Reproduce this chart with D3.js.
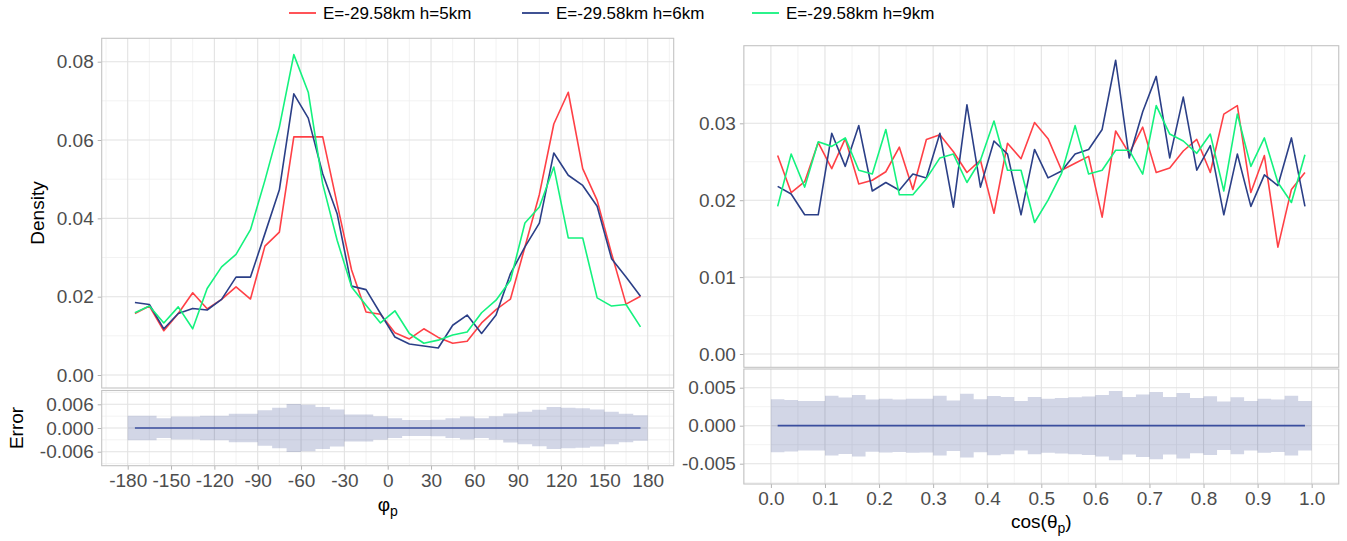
<!DOCTYPE html>
<html>
<head>
<meta charset="utf-8">
<script src="https://cdn.jsdelivr.net/npm/d3@7/dist/d3.min.js"></script>
<style>
  body { margin: 0; background: #fff; }
  text { font-family: "Liberation Sans", Arial, sans-serif; }
</style>
</head>
<body>
<svg id="chart" width="1347" height="541"></svg>
<script>
// ---- azimuthal distribution (phi_p, 10 degree bins) ----
const phiBins = [-175,-165,-155,-145,-135,-125,-115,-105,-95,-85,-75,-65,-55,-45,-35,-25,-15,-5,
                 5,15,25,35,45,55,65,75,85,95,105,115,125,135,145,155,165,175];
const phiH5 = [0.0157,0.0176,0.0113,0.0157,0.0210,0.0169,0.0193,0.0225,0.0194,0.0329,0.0365,0.0608,
               0.0608,0.0608,0.0437,0.0268,0.0161,0.0155,0.0108,0.0092,0.0118,0.0096,0.0081,0.0086,
               0.0133,0.0167,0.0194,0.0327,0.0461,0.0641,0.0722,0.0527,0.0446,0.0310,0.0181,0.0201];
const phiH6 = [0.0185,0.0180,0.0118,0.0157,0.0170,0.0166,0.0193,0.0250,0.0250,0.0361,0.0473,0.0718,
               0.0656,0.0514,0.0412,0.0227,0.0218,0.0157,0.0097,0.0079,0.0074,0.0069,0.0127,0.0153,
               0.0106,0.0153,0.0259,0.0327,0.0388,0.0567,0.0510,0.0484,0.0431,0.0297,0.0250,0.0201];
const phiH9 = [0.0159,0.0176,0.0133,0.0174,0.0118,0.0221,0.0276,0.0308,0.0371,0.0497,0.0633,0.0818,
               0.0722,0.0488,0.0344,0.0225,0.0178,0.0133,0.0164,0.0106,0.0081,0.0089,0.0102,0.0110,
               0.0159,0.0191,0.0242,0.0388,0.0429,0.0531,0.0350,0.0350,0.0197,0.0176,0.0180,0.0123];
const phiErr = [0.0031,0.0031,0.0025,0.0029,0.0029,0.0031,0.0031,0.0036,0.0036,0.0045,0.0051,0.0061,
                0.0059,0.0053,0.0047,0.0034,0.0034,0.0030,0.0025,0.0020,0.0020,0.0021,0.0025,0.0029,
                0.0025,0.0030,0.0037,0.0041,0.0046,0.0053,0.0051,0.0050,0.0047,0.0041,0.0036,0.0032];
const phiTicks = [-180,-150,-120,-90,-60,-30,0,30,60,90,120,150,180];
const phiDensityTicks = [0, 0.02, 0.04, 0.06, 0.08];
const phiErrTicks = [-0.006, 0, 0.006];

// ---- polar distribution (cos theta_p, 0.025 bins) ----
const cosBins = [0.0125,0.0375,0.0625,0.0875,0.1125,0.1375,0.1625,0.1875,0.2125,0.2375,
                 0.2625,0.2875,0.3125,0.3375,0.3625,0.3875,0.4125,0.4375,0.4625,0.4875,
                 0.5125,0.5375,0.5625,0.5875,0.6125,0.6375,0.6625,0.6875,0.7125,0.7375,
                 0.7625,0.7875,0.8125,0.8375,0.8625,0.8875,0.9125,0.9375,0.9625,0.9875];
const cosH5 = [0.0258,0.0210,0.0224,0.0275,0.0241,0.0280,0.0221,0.0226,0.0237,0.0269,
               0.0214,0.0279,0.0285,0.0263,0.0236,0.0252,0.0183,0.0274,0.0254,0.0301,
               0.0280,0.0239,0.0248,0.0257,0.0178,0.0290,0.0261,0.0295,0.0236,0.0242,
               0.0264,0.0279,0.0236,0.0312,0.0323,0.0210,0.0258,0.0139,0.0214,0.0236];
const cosH6 = [0.0218,0.0208,0.0181,0.0181,0.0287,0.0244,0.0297,0.0212,0.0223,0.0213,
               0.0234,0.0229,0.0287,0.0191,0.0324,0.0217,0.0277,0.0260,0.0181,0.0266,
               0.0229,0.0238,0.0260,0.0266,0.0292,0.0382,0.0255,0.0315,0.0361,0.0255,
               0.0334,0.0239,0.0271,0.0181,0.0260,0.0192,0.0233,0.0219,0.0281,0.0192];
const cosH9 = [0.0192,0.0260,0.0217,0.0276,0.0270,0.0281,0.0239,0.0234,0.0292,0.0207,
               0.0207,0.0228,0.0255,0.0260,0.0223,0.0252,0.0303,0.0239,0.0239,0.0171,
               0.0200,0.0235,0.0297,0.0234,0.0239,0.0265,0.0265,0.0234,0.0323,0.0286,
               0.0277,0.0261,0.0286,0.0212,0.0312,0.0244,0.0281,0.0223,0.0197,0.0259];
const cosErr = [0.00349,0.00338,0.00325,0.00325,0.00393,0.00371,0.00404,0.00344,0.00353,0.00346,
                0.00355,0.00353,0.00393,0.00333,0.00419,0.00349,0.00390,0.00377,0.00325,0.00377,
                0.00355,0.00366,0.00375,0.00384,0.00404,0.00456,0.00379,0.00412,0.00443,0.00379,
                0.00430,0.00364,0.00386,0.00320,0.00375,0.00325,0.00355,0.00346,0.00393,0.00325];
const cosTicks = [0,0.1,0.2,0.3,0.4,0.5,0.6,0.7,0.8,0.9,1.0];
const cosDensityTicks = [0, 0.01, 0.02, 0.03];
const cosErrTicks = [-0.005, 0, 0.005];

const seriesNames = ["E=-29.58km h=5km", "E=-29.58km h=6km", "E=-29.58km h=9km"];
const seriesColors = ["#FF4046", "#2B3F87", "#14F27E"];
const errColor = "#2B3F87";
const zeroColor = "#3A4E9E";

const svg = d3.select("#chart");
const GRID_MAJOR = "#e2e2e2", GRID_MINOR = "#efefef", BORDER = "#c4c4c4";
const TICK_TEXT = "#4d4d4d";

// half-step list helper for minor gridlines
function midpoints(ticks, lo, hi) {
  const step = ticks[1] - ticks[0];
  const out = [];
  for (let v = ticks[0] - step / 2; v <= hi + 1e-9; v += step) if (v >= lo - 1e-9) out.push(v);
  return out;
}

function drawPanel(opt) {
  const { x, y, box, xTicks, yTicks, yFmt, xFmt, showX } = opt;
  const g = svg.append("g");
  const xd = x.domain(), yd = y.domain();
  const xLo = x.invert(box.left), xHi = x.invert(box.right);
  const yLo = y.invert(box.bottom), yHi = y.invert(box.top);
  const xMin = midpoints(xTicks, xLo, xHi);
  const yMin = midpoints(yTicks, yLo, yHi);

  g.selectAll(".xmin").data(xMin).join("line")
    .attr("x1", d => x(d)).attr("x2", d => x(d)).attr("y1", box.top).attr("y2", box.bottom)
    .attr("stroke", GRID_MINOR).attr("stroke-width", 0.8);
  g.selectAll(".ymin").data(yMin).join("line")
    .attr("y1", d => y(d)).attr("y2", d => y(d)).attr("x1", box.left).attr("x2", box.right)
    .attr("stroke", GRID_MINOR).attr("stroke-width", 0.8);
  g.selectAll(".xmaj").data(xTicks).join("line")
    .attr("x1", d => x(d)).attr("x2", d => x(d)).attr("y1", box.top).attr("y2", box.bottom)
    .attr("stroke", GRID_MAJOR).attr("stroke-width", 1.1);
  g.selectAll(".ymaj").data(yTicks).join("line")
    .attr("y1", d => y(d)).attr("y2", d => y(d)).attr("x1", box.left).attr("x2", box.right)
    .attr("stroke", GRID_MAJOR).attr("stroke-width", 1.1);

  const data = svg.append("g");

  const border = () => svg.append("rect")
    .attr("x", box.left).attr("y", box.top)
    .attr("width", box.right - box.left).attr("height", box.bottom - box.top)
    .attr("fill", "none").attr("stroke", BORDER).attr("stroke-width", 1.1);

  // y axis
  const ya = svg.append("g").attr("transform", `translate(${box.left},0)`)
    .call(d3.axisLeft(y).tickValues(yTicks).tickFormat(yFmt).tickSize(4).tickPadding(4));
  ya.select(".domain").remove();
  ya.selectAll(".tick line").attr("stroke", "#b3b3b3");
  ya.selectAll(".tick text").attr("fill", TICK_TEXT).style("font-size", "19px")
    .style("font-family", '"Liberation Sans", Arial, sans-serif');

  if (showX) {
    const xa = svg.append("g").attr("transform", `translate(0,${box.bottom})`)
      .call(d3.axisBottom(x).tickValues(xTicks).tickFormat(xFmt).tickSize(4).tickPadding(4));
    xa.select(".domain").remove();
    xa.selectAll(".tick line").attr("stroke", "#b3b3b3");
    xa.selectAll(".tick text").attr("fill", TICK_TEXT).style("font-size", "19px")
      .style("font-family", '"Liberation Sans", Arial, sans-serif');
  }
  return { data, border };
}

function drawDensity(p, x, y, bins, seriesList) {
  const line = d3.line().x(d => x(d[0])).y(d => y(d[1]));
  seriesList.forEach((vals, i) => {
    p.data.append("path")
      .datum(bins.map((b, j) => [b, vals[j]]))
      .attr("d", line).attr("fill", "none")
      .attr("stroke", seriesColors[i]).attr("stroke-width", 1.6)
      .attr("stroke-linejoin", "round");
  });
}

function drawError(p, x, y, bins, err) {
  const half = (bins[1] - bins[0]) / 2;
  const pts = bins.map((b, j) => [b - half, err[j]]);
  pts.push([bins[bins.length - 1] + half, err[err.length - 1]]);
  const area = d3.area().curve(d3.curveStepAfter)
    .x(d => x(d[0])).y0(d => y(-d[1])).y1(d => y(d[1]));
  p.data.append("path").datum(pts).attr("d", area)
    .attr("fill", errColor).attr("fill-opacity", 0.21);
  p.data.append("line")
    .attr("x1", x(bins[0])).attr("x2", x(bins[bins.length - 1]))
    .attr("y1", y(0)).attr("y2", y(0))
    .attr("stroke", zeroColor).attr("stroke-width", 1.7);
}

// ---------- left column: phi_p ----------
const xPhi = d3.scaleLinear().domain([-180, 180]).range([127.7, 647.7]);
const boxPhiTop = { left: xPhi(-198), right: xPhi(198), top: 38.3, bottom: 388 };
const boxPhiErr = { left: xPhi(-198), right: xPhi(198), top: 390.5, bottom: 465.7 };
const yPhi = d3.scaleLinear().domain([0, 0.08]).range([375, 61.7]);
const yPhiErr = d3.scaleLinear().domain([-0.006, 0.006]).range([451.7, 404.3]);

const pPhiTop = drawPanel({ x: xPhi, y: yPhi, box: boxPhiTop, xTicks: phiTicks, yTicks: phiDensityTicks,
  yFmt: d => d.toFixed(2), showX: false });
drawDensity(pPhiTop, xPhi, yPhi, phiBins, [phiH5, phiH6, phiH9]);
pPhiTop.border();

const pPhiErr = drawPanel({ x: xPhi, y: yPhiErr, box: boxPhiErr, xTicks: phiTicks, yTicks: phiErrTicks,
  yFmt: d => d.toFixed(3), xFmt: d => String(d), showX: true });
drawError(pPhiErr, xPhi, yPhiErr, phiBins, phiErr);
pPhiErr.border();

// ---------- right column: cos(theta_p) ----------
const xCos = d3.scaleLinear().domain([0, 1]).range([770.9, 1311.7]);
const boxCosTop = { left: xCos(-0.05), right: xCos(1.05), top: 45.7, bottom: 367.3 };
const boxCosErr = { left: xCos(-0.05), right: xCos(1.05), top: 369, bottom: 484 };
const yCos = d3.scaleLinear().domain([0, 0.03]).range([354, 123.3]);
const yCosErr = d3.scaleLinear().domain([-0.005, 0.005]).range([463.7, 387.7]);

const pCosTop = drawPanel({ x: xCos, y: yCos, box: boxCosTop, xTicks: cosTicks, yTicks: cosDensityTicks,
  yFmt: d => d.toFixed(2), showX: false });
drawDensity(pCosTop, xCos, yCos, cosBins, [cosH5, cosH6, cosH9]);
pCosTop.border();

const pCosErr = drawPanel({ x: xCos, y: yCosErr, box: boxCosErr, xTicks: cosTicks, yTicks: cosErrTicks,
  yFmt: d => d.toFixed(3), xFmt: d => d.toFixed(1), showX: true });
drawError(pCosErr, xCos, yCosErr, cosBins, cosErr);
pCosErr.border();

// ---------- axis titles ----------
const titleStyle = s => s.attr("fill", "#000").style("font-size", "19px");
svg.append("text").attr("transform", "translate(44,213) rotate(-90)")
  .attr("text-anchor", "middle").text("Density").call(titleStyle);
svg.append("text").attr("transform", "translate(23,428) rotate(-90)")
  .attr("text-anchor", "middle").text("Error").call(titleStyle);

const phiTitle = svg.append("text").attr("x", xPhi(0)).attr("y", 511)
  .attr("text-anchor", "middle").call(titleStyle);
phiTitle.append("tspan").text("φ");
phiTitle.append("tspan").attr("dy", 5).style("font-size", "14px").text("p");

const cosTitle = svg.append("text").attr("x", xCos(0.5)).attr("y", 528)
  .attr("text-anchor", "middle").call(titleStyle);
cosTitle.append("tspan").text("cos(θ");
cosTitle.append("tspan").attr("dy", 5).style("font-size", "14px").text("p");
cosTitle.append("tspan").attr("dy", -5).text(")");

// ---------- legend ----------
const legendX = [289, 522, 752];
const legend = svg.append("g");
seriesNames.forEach((name, i) => {
  const g = legend.append("g").attr("transform", `translate(${legendX[i]},13)`);
  g.append("line").attr("x1", 0).attr("x2", 27).attr("y1", 0).attr("y2", 0)
    .attr("stroke", seriesColors[i]).attr("stroke-width", 1.8);
  g.append("text").attr("x", 34).attr("y", 0).attr("dy", "0.35em")
    .attr("fill", "#000").style("font-size", "17px").text(name);
});
</script>
</body>
</html>
